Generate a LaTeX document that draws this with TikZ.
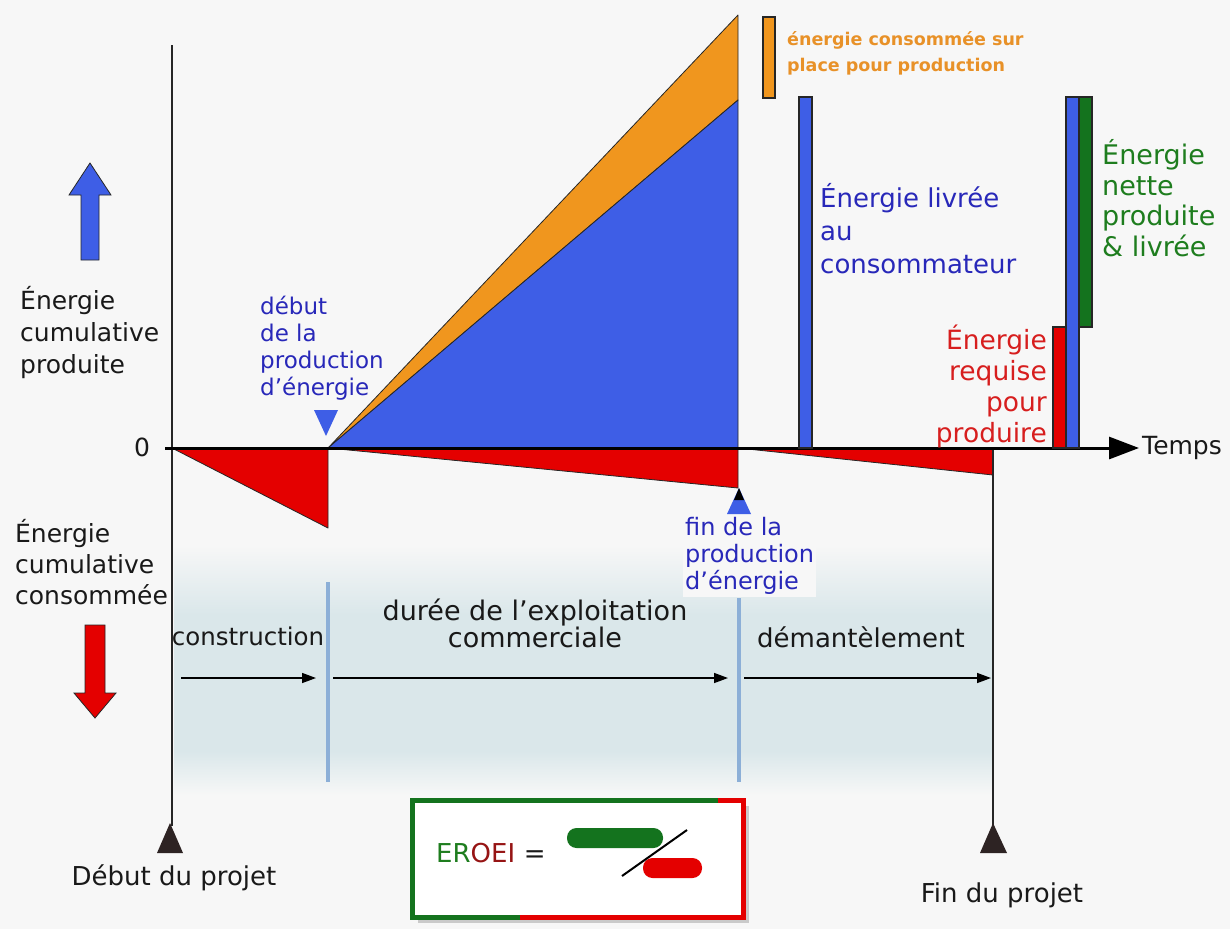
\documentclass[tikz,border=0pt]{standalone}
\usepackage{fontspec}
\setmainfont{DejaVu Sans}
\usetikzlibrary{arrows.meta,calc}
\definecolor{bgc}{RGB}{247,247,247}
\definecolor{shadeblue}{RGB}{218,231,234}
\definecolor{fillblue}{RGB}{62,94,230}
\definecolor{fillorange}{RGB}{240,150,30}
\definecolor{fillred}{RGB}{228,0,0}
\definecolor{fillgreen}{RGB}{20,115,30}
\definecolor{txtblue}{RGB}{40,40,185}
\definecolor{txtred}{RGB}{215,30,30}
\definecolor{txtgreen}{RGB}{30,125,30}
\definecolor{txtorange}{RGB}{232,145,40}
\definecolor{txtdark}{RGB}{25,25,25}
\definecolor{lineblue}{RGB}{140,175,215}
\definecolor{markdark}{RGB}{45,35,35}
\definecolor{eroeired}{RGB}{150,20,20}
\newcommand\myfs[2]{\fontsize{#1}{#2}\selectfont}
\tikzset{
  lbl/.style={inner sep=0pt, text=txtdark},
  region/.style={draw=black!85, line width=0.8pt, line join=round},
  bar/.style={draw=black!85, line width=1.6pt},
  tl/.style={line width=1.4pt, -{Triangle[length=14pt,width=10pt]}},
  sep/.style={lineblue, line width=4pt},
  marker/.style={fill=markdark}
}
\begin{document}
\begin{tikzpicture}[x=1pt,y=-1pt]
\useasboundingbox (0,0) rectangle (1230,929);
\fill[bgc] (0,0) rectangle (1230,929);
% shaded band below the axis
\shade[top color=bgc, bottom color=shadeblue] (174,545) rectangle (992,615);
\fill[shadeblue] (174,614) rectangle (992,752);
\shade[top color=shadeblue, bottom color=bgc] (174,751) rectangle (992,795);

% key coordinates
\coordinate (O) at (172,448);
\coordinate (C) at (328,448);
\coordinate (Cb) at (328,528);
\coordinate (Tor) at (738,15);
\coordinate (Tbl) at (738,100);
\coordinate (E) at (738,448);
\coordinate (Eb) at (738,488);
\coordinate (D) at (993,448);
\coordinate (Db) at (993,475);

% energy regions
\filldraw[region, fill=fillred] (O) -- (C) -- (Cb) -- cycle;
\filldraw[region, fill=fillorange] (C) -- (Tor) -- (Tbl) -- cycle;
\filldraw[region, fill=fillblue] (C) -- (Tbl) -- (E) -- cycle;
\filldraw[region, fill=fillred] (C) -- (E) -- (Eb) -- cycle;
\filldraw[region, fill=fillred] (E) -- (D) -- (Db) -- cycle;

% separators (light blue)
\coordinate (s1t) at (328,582);
\coordinate (s1b) at (328,782);
\coordinate (s2t) at (739,598);
\coordinate (s2b) at (739,782);
\draw[sep] (s1t) -- (s1b);
\draw[sep] (s2t) -- (s2b);

% axes
\coordinate (vt) at (172,45);
\coordinate (vb) at (172,826);
\coordinate (rt) at (993,448);
\coordinate (rb) at (993,826);
\coordinate (hl) at (165,448);
\coordinate (hr) at (1139,448);
\draw[line width=1.6pt, black!85] (vt) -- (vb);
\draw[line width=1.6pt, black!85] (rt) -- (rb);
\draw[line width=3pt, -{Triangle[length=30pt,width=22pt]}] (hl) -- (hr);

% project markers
\fill[marker] (157,853) -- (183,853) -- (170,823) -- cycle;
\fill[marker] (980,853) -- (1007,853) -- (993,823) -- cycle;
% production markers
\fill[fillblue] (314,410) -- (338,410) -- (326,436) -- cycle;
\fill[fillblue] (727,514) -- (751,514) -- (739,488) -- cycle;
\fill[black] (739,488) -- (734,500) -- (744,500) -- cycle;

% bars
\filldraw[bar, fill=fillorange] (763,17) rectangle (775,98);
\filldraw[bar, fill=fillblue] (799,97) rectangle (812,448);
\filldraw[bar, fill=fillred] (1053,327) rectangle (1066,448);
\filldraw[bar, fill=fillblue] (1066,97) rectangle (1079,448);
\filldraw[bar, fill=fillgreen] (1079,97) rectangle (1092,327);

% block arrows
\filldraw[fill=fillblue, draw=black!85, line width=0.8pt] (81,260) -- (99,260) -- (99,195) -- (111,195) -- (90,163) -- (69,195) -- (81,195) -- cycle;
\filldraw[fill=fillred, draw=black!85, line width=0.8pt] (85,625) -- (105,625) -- (105,693) -- (116,693) -- (95,718) -- (74,693) -- (85,693) -- cycle;

% time line arrows
\coordinate (a1s) at (181,678);
\coordinate (a1e) at (316,678);
\coordinate (a2s) at (333,678);
\coordinate (a2e) at (728,678);
\coordinate (a3s) at (744,678);
\coordinate (a3e) at (991,678);
\draw[tl] (a1s) -- (a1e);
\draw[tl] (a2s) -- (a2e);
\draw[tl] (a3s) -- (a3e);

% texts
\node[lbl, anchor=center, font=\myfs{25}{31}] (zero) at (142,447) {0};
\node[lbl, anchor=west, align=left, font=\myfs{25}{32}] (prod) at (20,333) {Énergie\\cumulative\\produite};
\node[lbl, anchor=west, align=left, font=\myfs{25}{31}] (cons) at (15,562) {Énergie\\cumulative\\consommée};
\node[lbl, anchor=west, align=left, text=txtblue, font=\myfs{23}{27}] (debut) at (260,348) {début\\de la\\production\\d’énergie};
\node[lbl, anchor=west, align=left, text=txtblue, fill=bgc, inner sep=2pt, font=\myfs{24}{27}] (fin) at (683,556) {fin de la\\production\\d’énergie};
\node[lbl, anchor=west, align=left, text=txtblue, font=\myfs{26}{33}] (livree) at (820,229) {Énergie livrée\\au\\consommateur};
\node[lbl, anchor=east, align=right, text=txtred, font=\myfs{26.5}{31}] (requise) at (1047,386) {Énergie\\requise\\pour\\produire};
\node[lbl, anchor=west, align=left, text=txtgreen, font=\myfs{27}{30.5}] (nette) at (1102,198) {Énergie\\nette\\produite\\\& livrée};
\node[lbl, anchor=west, align=left, text=txtorange, font=\myfs{17.5}{26}\bfseries] (surplace) at (787,53) {énergie consommée sur\\place pour production};
\node[lbl, anchor=west, font=\myfs{25}{31}] (temps) at (1142,448) {Temps};
\node[lbl, anchor=center, font=\myfs{24.5}{31}] (constr) at (248,636) {construction};
\node[lbl, anchor=center, align=center, font=\myfs{27}{27}] (duree) at (535,623) {durée de l’exploitation\\commerciale};
\node[lbl, anchor=center, font=\myfs{26}{31}] (demant) at (861,637) {démantèlement};
\node[lbl, anchor=center, font=\myfs{26}{31}] (debproj) at (174,878) {Début du projet};
\node[lbl, anchor=center, font=\myfs{26}{31}] (finproj) at (1002,895) {Fin du projet};

% EROEI box
\fill[black, opacity=0.18] (418,806) rectangle (749,923);
\fill[white] (412,800) rectangle (743,917);
\coordinate (bl) at (412,917);
\coordinate (tl0) at (412,800);
\coordinate (tr) at (743,800);
\coordinate (br) at (743,917);
\coordinate (tsplit) at (718,800);
\coordinate (bsplit) at (520,917);
\draw[fillgreen, line width=5pt, line join=miter] (bsplit) -- (bl) -- (tl0) -- (tsplit);
\draw[fillred, line width=5pt, line join=miter] (tsplit) -- (tr) -- (br) -- (bsplit);
\node[lbl, anchor=west, font=\myfs{26}{31}] (eroei) at (436,853) {\textcolor{txtgreen}{ER}\textcolor{eroeired}{OEI}\,\,=};
\fill[fillgreen, rounded corners=9.5pt] (567,828) rectangle (663,848);
\fill[fillred, rounded corners=9.5pt] (643,858) rectangle (702,878);
\coordinate (sl1) at (622,876);
\coordinate (sl2) at (687,830);
\draw[line width=2pt, black] (sl1) -- (sl2);
\end{tikzpicture}
\end{document}
